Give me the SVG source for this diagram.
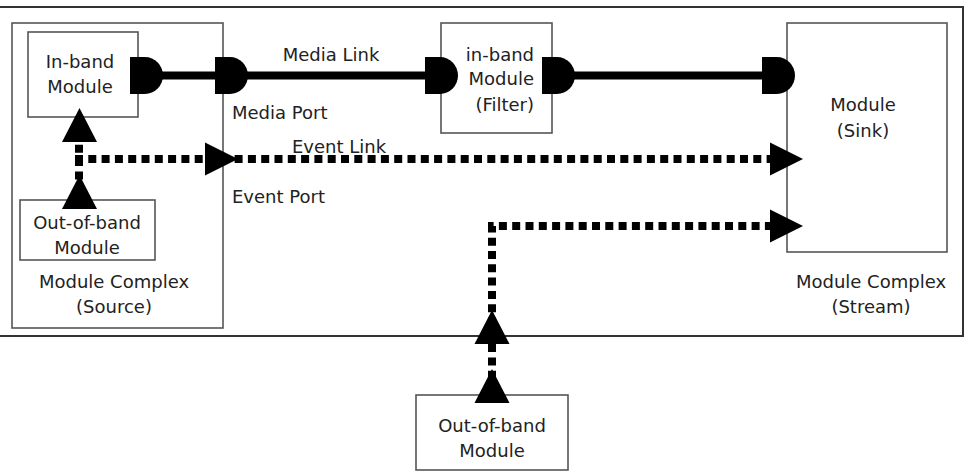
<svg xmlns="http://www.w3.org/2000/svg" width="966" height="474" viewBox="0 0 966 474">
<style>
.box{fill:#fff;stroke:#555;stroke-width:1.6}
.frame{fill:none;stroke:#333;stroke-width:2}
.txt{font-family:"DejaVu Sans",Verdana,sans-serif;font-size:18px;fill:#222}
.mid{text-anchor:middle}
.end{text-anchor:end}
.media{stroke:#000;stroke-width:8;fill:none}
.event{stroke:#000;stroke-width:8;fill:none;stroke-dasharray:8 5.3}
</style>
<defs>
<path id="port" d="M0,-18.5 h15 a18,18.5 0 0 1 0,37 h-15 z" fill="#000"/>
<path id="arrR" d="M0,-16.5 L33,0 L0,16.5 z" fill="#000"/>
<path id="arrU" d="M-17.5,0 L0,-34 L17.5,0 z" fill="#000"/>
</defs>
<rect class="frame" x="-2" y="7" width="965" height="329"/>
<g id="source-complex">
<rect class="box" x="12" y="23" width="211" height="305"/>
<text class="txt mid" x="114" y="288">Module Complex</text>
<text class="txt mid" x="114" y="313">(Source)</text>
</g>
<g id="sink-complex">
<text class="txt mid" x="871" y="288">Module Complex</text>
<text class="txt mid" x="871" y="313">(Stream)</text>
</g>
<g id="inband-module">
<rect class="box" x="28" y="32" width="110" height="85"/>
<text class="txt mid" x="80" y="68">In-band</text>
<text class="txt mid" x="80" y="93">Module</text>
</g>
<g id="oob-source">
<rect class="box" x="20" y="200" width="135" height="60"/>
<text class="txt mid" x="87" y="229">Out-of-band</text>
<text class="txt mid" x="87" y="254">Module</text>
</g>
<g id="filter-module">
<rect class="box" x="441" y="23" width="111" height="110"/>
<text class="txt end" x="534" y="61">in-band</text>
<text class="txt end" x="534" y="85">Module</text>
<text class="txt end" x="534" y="111">(Filter)</text>
</g>
<g id="sink-module">
<rect class="box" x="787" y="23" width="160" height="229"/>
<text class="txt mid" x="863" y="111">Module</text>
<text class="txt mid" x="863" y="137">(Sink)</text>
</g>
<g id="oob-bottom">
<rect class="box" x="416" y="395" width="152" height="75"/>
<text class="txt mid" x="492" y="432">Out-of-band</text>
<text class="txt mid" x="492" y="457">Module</text>
</g>
<g id="labels">
<text class="txt mid" x="331" y="61">Media Link</text>
<text class="txt" x="232" y="119">Media Port</text>
<text class="txt" x="292" y="153">Event Link</text>
<text class="txt" x="232" y="203">Event Port</text>
</g>
<g id="connectors">
<line class="media" x1="150" y1="75.5" x2="430" y2="75.5"/>
<line class="media" x1="560" y1="75.5" x2="770" y2="75.5"/>
<use href="#port" x="130" y="75.5"/>
<use href="#port" x="215" y="75.5"/>
<use href="#port" x="425" y="75.5"/>
<use href="#port" x="542" y="75.5"/>
<use href="#port" x="762" y="75.5"/>
<path class="event" d="M79,206 V140"/>
<path class="event" d="M75,159 H772"/>
<path class="event" d="M492,392 V226 H772"/>
<use href="#arrU" x="79.5" y="142"/>
<use href="#arrU" x="79.5" y="209"/>
<use href="#arrR" x="205" y="159"/>
<use href="#arrR" x="770" y="159"/>
<use href="#arrR" x="770" y="226"/>
<use href="#arrU" x="492" y="344"/>
<use href="#arrU" x="492" y="403"/>
</g>
</svg>
